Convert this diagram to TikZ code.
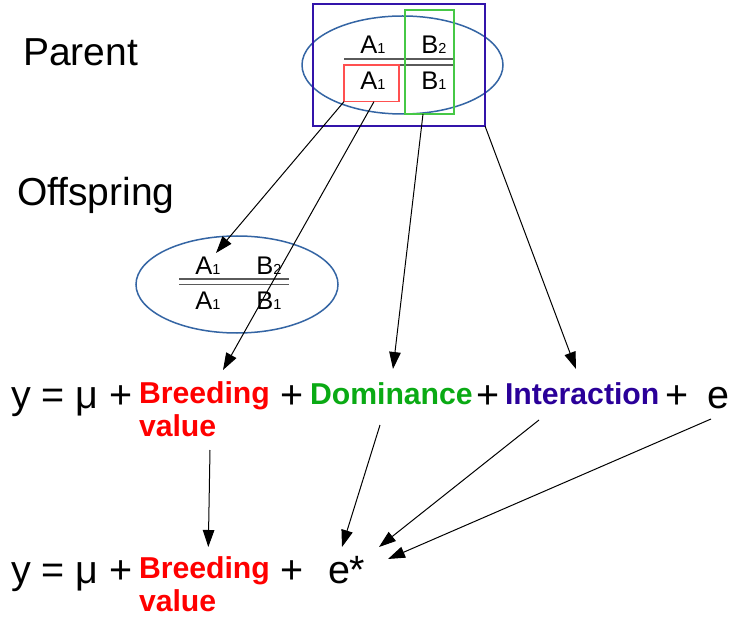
\documentclass[tikz,border=0pt]{standalone}
\usepackage{fontspec}
\setmainfont{Liberation Sans}
\usetikzlibrary{arrows.meta,shapes.geometric,calc}
\definecolor{ellblue}{RGB}{52,101,164}
\definecolor{myindigo}{RGB}{42,0,153}
\definecolor{boxindigo}{RGB}{50,20,170}
\definecolor{domgreen}{RGB}{10,170,20}
\definecolor{boxgreen}{RGB}{70,200,70}
\definecolor{boxred}{RGB}{255,80,80}
\definecolor{linegray}{RGB}{90,90,90}
\newcommand{\gsub}[1]{{\fontsize{14.5}{14.5}\selectfont #1}}
\begin{document}
\begin{tikzpicture}[x=1pt,y=-1pt,
  lbl/.style={inner sep=0pt,outer sep=0pt,anchor=base west},
  big/.style={lbl,font=\fontsize{39}{40}\selectfont},
  eq/.style={lbl,font=\fontsize{39.5}{40}\selectfont},
  bld/.style={lbl,font=\fontsize{30.2}{31}\selectfont\bfseries},
  gene/.style={inner sep=0pt,outer sep=0pt,anchor=base,font=\fontsize{25.5}{26}\selectfont},
  ell/.style={ellipse,draw=ellblue,line width=1.5pt,inner sep=0pt},
  arr/.style={draw=black,line width=1pt,-{Triangle[length=17pt,width=11.5pt]}},
  dbl/.style={draw=linegray,line width=1.3pt},
  ]
\path[use as bounding box,fill=white] (0,0) rectangle (730,620);

% labels
\node[big] (parent) at (23,66) {Parent};
\node[big] (offspring) at (17,206) {Offspring};

% parent genotype
\node[ell,minimum width=201pt,minimum height=98pt] (pell) at (402.5,65) {};
\draw[dbl] (344,59) -- (454,59);
\draw[dbl] (344,65) -- (454,65);
\node[gene] (pa1) at (373,54) {A\gsub{1}};
\node[gene] (pb2) at (434,54) {B\gsub{2}};
\node[gene] (pa1b) at (373,90) {A\gsub{1}};
\node[gene] (pb1) at (434,90) {B\gsub{1}};
\node[draw=boxindigo,line width=1.3pt,minimum width=172pt,minimum height=122pt,inner sep=0pt,outer sep=0pt] (pbox) at (399,65) {};
\node[draw=boxgreen,line width=1.3pt,minimum width=49pt,minimum height=104pt,inner sep=0pt,outer sep=0pt] (gbox) at (429.5,62) {};
\node[draw=boxred,line width=1.3pt,minimum width=55pt,minimum height=36.7pt,inner sep=0pt,outer sep=0pt] (rbox) at (371.5,83.3) {};

% offspring genotype
\node[ell,minimum width=202pt,minimum height=97pt] (oell) at (237,284.5) {};
\draw[dbl] (179,279) -- (289,279);
\draw[dbl] (179,284.5) -- (289,284.5);
\node[gene] (oa1) at (208,274) {A\gsub{1}};
\node[gene] (ob2) at (269,274) {B\gsub{2}};
\node[gene] (oa1b) at (208,309) {A\gsub{1}};
\node[gene] (ob1) at (269,309) {B\gsub{1}};

% equation 1
\node[eq] (y1) at (11,408) {y = μ +};
\node[bld,text=red] (bv1) at (139,403) {Breeding};
\node[bld,text=red] (bv1val) at (139,436) {value};
\node[eq] (p1a) at (280,408) {+};
\node[bld,text=domgreen] (dom) at (310,404) {Dominance};
\node[eq] (p1b) at (476,408) {+};
\node[bld,text=myindigo] (inter) at (505,404) {Interaction};
\node[eq] (p1c) at (665,408) {+};
\node[eq] (e1) at (707,408) {e};

% equation 2
\node[eq] (y2) at (11,583) {y = μ +};
\node[bld,text=red] (bv2) at (139,578) {Breeding};
\node[bld,text=red] (bv2val) at (139,611) {value};
\node[eq] (p2a) at (280,583) {+};
\node[eq] (e2) at (328,583) {e*};

% arrow end points
\coordinate (tOff) at (216,253);
\coordinate (tBv) at (223,370);
\coordinate (tDom) at (393,369);
\coordinate (tInt) at (576,369);
\coordinate (sBv) at (210,450);
\coordinate (sDom) at (380,425);
\coordinate (sInt) at (539,420);
\coordinate (sE) at (711,419);
\coordinate (tBv2) at (208.3,547);
\coordinate (tE1) at (342,547);
\coordinate (tE2) at (379,547);
\coordinate (tE3) at (388,559);

% arrows from parent
\draw[arr] (rbox.south west) -- (tOff);
\draw[arr] ($(rbox.south)+(2.5,0)$) -- (tBv);
\draw[arr] ($(gbox.south)+(-6.5,0)$) -- (tDom);
\draw[arr] (pbox.south east) -- (tInt);

% arrows to reduced model
\draw[arr] (sBv) -- (tBv2);
\draw[arr] (sDom) -- (tE1);
\draw[arr] (sInt) -- (tE2);
\draw[arr] (sE) -- (tE3);
\end{tikzpicture}
\end{document}
